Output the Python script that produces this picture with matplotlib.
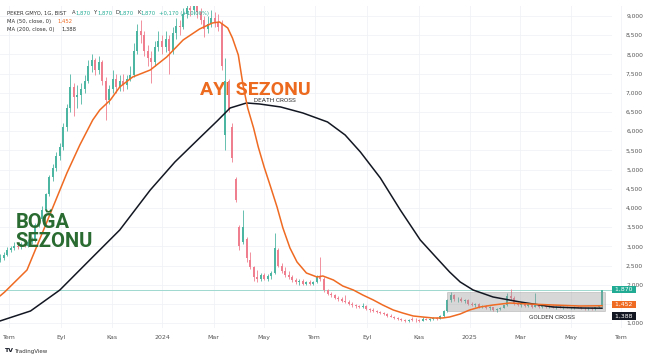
import numpy as np
import pandas as pd
import matplotlib
matplotlib.use("Agg")  # headless
import matplotlib.pyplot as plt
import matplotlib.transforms as mtransforms
from matplotlib.patches import Rectangle

# ---------- candles (one every 3rd session) ----------
opens = [2650, 2700, 2780, 2900, 2950, 3020, 2980, 3050, 3020, 3100,
         3150, 3560, 3700, 3950, 4350, 4800, 5050, 5350, 5600, 6100,
         6600, 7150, 6900, 6950, 7100, 7300, 7700, 7850, 7600, 7800,
         7300, 6800, 7100, 7350, 7150, 7300, 7200, 7350, 7450, 8100,
         8600, 8500, 8100, 7900, 7800, 8200, 8350, 8200, 8400, 8100,
         8550, 8750, 8700, 9050, 9200, 9150, 9250, 9100, 8900, 8650,
         8800, 8950, 8850, 8800, 5900, 7300, 6100, 4750, 3500, 3100,
         3200, 2650, 2450, 2200, 2150, 2250, 2160, 2220, 2300, 2900,
         2500, 2350, 2250, 2200, 2120, 2060, 2100, 2030, 2060, 2010,
         2080, 2200, 2150, 1850, 1760, 1720, 1650, 1620, 1570, 1560,
         1500, 1460, 1440, 1410, 1450, 1360, 1330, 1310, 1280, 1260,
         1230, 1190, 1170, 1120, 1100, 1070, 1060, 1090, 1080, 1070,
         1060, 1110, 1090, 1100, 1120, 1110, 1180, 1320, 1600, 1720,
         1620, 1640, 1580, 1600, 1510, 1480, 1500, 1430, 1450, 1390,
         1410, 1350, 1370, 1400, 1460, 1700, 1650, 1520, 1480, 1500,
         1450, 1490, 1430, 1470, 1430, 1450, 1420, 1440, 1410, 1430,
         1400, 1420, 1390, 1410, 1420, 1400, 1390, 1380, 1400, 1370,
         1410, 1440]
highs = [2800, 2850, 2980, 3020, 3100, 3080, 3120, 3100, 3180, 3250,
         3600, 3780, 4050, 4400, 4850, 5150, 5450, 5700, 6200, 6700,
         7500, 7250, 7200, 7250, 7450, 7850, 8000, 7900, 7950, 7850,
         7400, 7200, 7600, 7500, 7450, 7500, 7450, 7700, 8300, 8800,
         8900, 8600, 8250, 8100, 8350, 8600, 8500, 8600, 8500, 8700,
         8950, 8900, 9200, 9400, 9350, 9400, 9350, 9200, 9000, 9000,
         9150, 9100, 9050, 8900, 7900, 7350, 6200, 4800, 3550, 3950,
         3250, 2850, 2500, 2380, 2300, 2300, 2280, 2350, 3350, 2950,
         2570, 2450, 2350, 2250, 2180, 2150, 2150, 2100, 2120, 2100,
         2250, 2720, 2200, 1900, 1820, 1760, 1700, 1680, 1720, 1590,
         1540, 1500, 1480, 1520, 1470, 1400, 1380, 1340, 1320, 1300,
         1270, 1230, 1190, 1160, 1130, 1100, 1110, 1150, 1120, 1100,
         1160, 1140, 1130, 1150, 1160, 1200, 1350, 1620, 1800, 1750,
         1680, 1670, 1640, 1620, 1560, 1530, 1520, 1480, 1470, 1440,
         1430, 1400, 1420, 1480, 1780, 1900, 1700, 1560, 1540, 1530,
         1520, 1510, 1780, 1500, 1470, 1480, 1460, 1470, 1450, 1460,
         1440, 1450, 1430, 1440, 1450, 1430, 1420, 1410, 1430, 1420,
         1460, 1870]
lows = [2600, 2650, 2740, 2850, 2900, 2920, 2940, 2980, 2990, 3060,
        3120, 3500, 3650, 3900, 4300, 4700, 4950, 5250, 5500, 6000,
        6500, 6400, 6600, 6700, 7000, 7250, 7550, 7450, 7500, 7200,
        6300, 6700, 7000, 7000, 7050, 7050, 7100, 7300, 7400, 8000,
        8300, 7950, 7700, 7250, 7700, 8100, 8000, 8050, 7500, 8000,
        8400, 8500, 8650, 8950, 9000, 9050, 8950, 8800, 8450, 8550,
        8700, 8700, 8600, 7600, 5500, 6500, 5200, 4150, 2900, 3050,
        2600, 2400, 2100, 2080, 2100, 2120, 2100, 2150, 2280, 2450,
        2300, 2200, 2150, 2080, 2020, 2000, 1990, 1980, 1990, 1980,
        2050, 2100, 1820, 1720, 1690, 1620, 1580, 1540, 1530, 1470,
        1430, 1400, 1380, 1390, 1340, 1300, 1290, 1250, 1230, 1200,
        1170, 1150, 1100, 1080, 1050, 1030, 1040, 1060, 1040, 1030,
        1050, 1070, 1060, 1080, 1090, 1100, 1170, 1300, 1560, 1580,
        1560, 1540, 1520, 1480, 1450, 1420, 1400, 1380, 1360, 1340,
        1320, 1300, 1330, 1380, 1450, 1600, 1480, 1440, 1430, 1420,
        1420, 1400, 1420, 1400, 1390, 1400, 1380, 1400, 1370, 1390,
        1370, 1380, 1360, 1370, 1380, 1360, 1350, 1340, 1350, 1350,
        1380, 1430]
closes = [2700, 2780, 2900, 2950, 3020, 2980, 3050, 3020, 3100, 3150,
          3560, 3700, 3950, 4350, 4800, 5050, 5350, 5600, 6100, 6600,
          7150, 6900, 6950, 7100, 7300, 7700, 7850, 7600, 7800, 7300,
          6800, 7100, 7350, 7150, 7300, 7200, 7350, 7450, 8100, 8600,
          8500, 8100, 7900, 7800, 8200, 8350, 8200, 8400, 8100, 8550,
          8750, 8700, 9050, 9200, 9150, 9250, 9100, 8900, 8650, 8800,
          8950, 8850, 8700, 7700, 7300, 6550, 5300, 4200, 3000, 3500,
          2700, 2450, 2200, 2150, 2250, 2160, 2220, 2300, 2950, 2500,
          2350, 2250, 2200, 2120, 2060, 2100, 2030, 2060, 2010, 2080,
          2200, 2150, 1850, 1760, 1720, 1650, 1620, 1570, 1560, 1500,
          1460, 1440, 1410, 1450, 1360, 1330, 1310, 1280, 1260, 1230,
          1190, 1170, 1120, 1100, 1070, 1060, 1090, 1080, 1070, 1060,
          1110, 1090, 1100, 1120, 1110, 1180, 1320, 1600, 1720, 1620,
          1640, 1580, 1600, 1510, 1480, 1500, 1430, 1450, 1390, 1410,
          1350, 1370, 1400, 1460, 1700, 1650, 1520, 1480, 1500, 1450,
          1490, 1430, 1470, 1430, 1450, 1420, 1440, 1410, 1430, 1400,
          1420, 1390, 1410, 1420, 1400, 1390, 1380, 1400, 1370, 1410,
          1440, 1870]

# ---------- moving averages (session number, value) ----------
ma50_day = [0, 4, 23, 40, 57, 68, 79, 85, 94, 102, 113, 128, 142, 156, 170,
            181, 187, 194, 198, 203, 207, 211, 216, 220, 225, 230, 236, 241,
            247, 253, 261, 270, 275, 284, 292, 301, 309, 318, 326, 335, 343,
            352, 360, 369, 377, 383, 392, 400, 409, 420, 434, 451, 471, 494, 513]
ma50 = [1706, 1810, 2383, 3640, 4910, 5640, 6291, 6551, 6812, 7150, 7411,
        7593, 7932, 8375, 8661, 8818, 8844, 8687, 8427, 7984, 7203, 6603,
        6082, 5588, 5066, 4598, 4024, 3477, 2956, 2592, 2305, 2201, 2227,
        2123, 1966, 1862, 1732, 1602, 1471, 1341, 1263, 1185, 1159, 1133,
        1133, 1159, 1237, 1341, 1419, 1471, 1523, 1497, 1471, 1445, 1452]
ma200_day = [0, 26, 51, 79, 102, 128, 149, 170, 185, 196, 210, 221, 239, 258,
             279, 294, 307, 324, 341, 358, 372, 383, 392, 403, 420, 443, 471,
             494, 513]
ma200 = [1055, 1315, 1862, 2722, 3425, 4467, 5197, 5822, 6265, 6603, 6734,
         6708, 6630, 6473, 6239, 5900, 5457, 4780, 3946, 3165, 2696, 2331,
         2071, 1862, 1680, 1550, 1419, 1393, 1388]

# consolidation box (sessions / prices)
box_days = [381, 515]
box_prices = [1315, 1810]

price_ticks = list(range(1000, 9001, 500))
hidden_ticks = {1500}  # covered by the MA tags on the scale
tr_months = {3: "Mar", 5: "May", 7: "Tem", 9: "Eyl", 11: "Kas"}

UP, DOWN = "#4db6a3", "#ef7f8e"
ORANGE, BLACK, TEAL = "#ef6a22", "#131722", "#22ab94"
NARROW = ["Roboto", "DejaVu Sans"]

# ---------- session calendar and month ticks ----------
sessions = pd.bdate_range("2023-06-21", periods=560)
tick_pos, tick_lab = [], []
for i in range(1, len(sessions)):
    d, prev = sessions[i], sessions[i - 1]
    if d.month != prev.month and d.month % 2 == 1:
        tick_pos.append(i)
        tick_lab.append(str(d.year) if d.month == 1 else tr_months[d.month])

# ---------- figure ----------
W, H = 654, 359
fig = plt.figure(figsize=(W / 100, H / 100), dpi=100)
ax = fig.add_axes([0, 31 / H, 650 / W, 322 / H])
ax.set_xlim(0, 553.7)
ax.set_ylim(872, 9260)
pane = 611 / 650  # right edge of the price pane in axes fraction

for s in ax.spines.values():
    s.set_visible(False)

for p in price_ticks:
    ax.axhline(p, xmax=pane, color="#f0f2f6", lw=0.6, zorder=0)
for t in tick_pos:
    ax.axvline(t, color="#f0f2f6", lw=0.6, zorder=0)

# candles
x = np.arange(len(closes)) * 3
o, h, l, c = map(np.array, (opens, highs, lows, closes))
col = np.where(c >= o, UP, DOWN)
ax.vlines(x, l, h, colors=col, lw=0.6, zorder=3)
ax.bar(x, np.maximum(np.abs(c - o), 20), bottom=np.minimum(o, c), width=1.7,
       color=col, lw=0, zorder=3)

# last price line
ax.axhline(closes[-1], xmax=pane, color="#9fd8cf", lw=0.7, zorder=1)

# box
ax.add_patch(Rectangle((box_days[0], box_prices[0]), box_days[1] - box_days[0],
                       box_prices[1] - box_prices[0], facecolor="#969696",
                       alpha=0.38, edgecolor="#8a8a8a", lw=0.6, zorder=3.5))

# moving averages
ax.plot(ma200_day, ma200, color=BLACK, lw=1.1, zorder=4, solid_capstyle="round")
ax.plot(ma50_day, ma50, color=ORANGE, lw=1.1, zorder=4, solid_capstyle="round")

# annotations
ax.text(13, 3478, "BOĞA", family=NARROW, fontsize=14.5, fontweight="bold",
        color="#2a6b31", va="baseline", ha="left", zorder=5)
ax.text(13, 2983, "SEZONU", family=NARROW, fontsize=14.5, fontweight="bold",
        color="#2a6b31", va="baseline", ha="left", zorder=5)
ax.text(170, 6942, "AYI SEZONU", family=NARROW, fontsize=14, fontweight="bold",
        color="#ec6a1f", va="baseline", ha="left", zorder=2.5)
ax.text(234, 6799, "DEATH CROSS", family=NARROW, fontsize=4.6, color="#333333",
        ha="center", va="center", zorder=5)
ax.text(470, 1146, "GOLDEN CROSS", family=NARROW, fontsize=4.6, color="#333333",
        ha="center", va="center", zorder=5)

# axes ticks
ax.set_xticks(tick_pos, tick_lab)
ax.tick_params(axis="x", length=0, pad=5, labelsize=4.5, labelcolor="#555555")
ax.yaxis.tick_right()
ax.set_yticks(price_ticks,
              ["" if p in hidden_ticks else f"{p:,}" for p in price_ticks])
ax.tick_params(axis="y", length=0, direction="in", pad=-5, labelsize=4.3,
               labelcolor="#555555")
for lab in ax.get_yticklabels():
    lab.set_horizontalalignment("right")

# price tags on the scale
trans = mtransforms.blended_transform_factory(ax.transAxes, ax.transData)
for val, fc, dy in [(closes[-1], TEAL, 0), (ma50[-1], ORANGE, 1), (ma200[-1], BLACK, -5.5)]:
    ax.annotate(f" {val:,} ", xy=(pane + 0.003, val), xycoords=trans,
                xytext=(0, dy), textcoords="offset points", ha="left", va="center",
                fontsize=4.4, color="white", annotation_clip=False, zorder=6,
                bbox=dict(boxstyle="square,pad=0.2", fc=fc, ec="none"))


# ---------- header legend ----------
def htxt(px, py, s, color="#333333"):
    fig.text(px / W, 1 - py / H, s, color=color, fontsize=3.8, va="center", ha="left")


htxt(7, 13, "PEKER GMYO, 1G, BIST")
for px, key in [(72, "A"), (94, "Y"), (115, "D"), (137, "K")]:
    htxt(px, 13, key)
    htxt(px + 3.5, 13, f"{closes[-1]:,}", TEAL)
htxt(159, 13, "+0,170 (+10,00%)", TEAL)
htxt(7, 21, "MA (50, close, 0)")
htxt(57, 21, f"{ma50[-1]:,}", ORANGE)
htxt(7, 29, "MA (200, close, 0)")
htxt(61, 29, f"{ma200[-1]:,}")

# footer
fig.text(4 / W, 1 - 351 / H, "TV", fontsize=4.5, fontweight="bold", color="#131722", va="center")
fig.text(14 / W, 1 - 351 / H, "TradingView", fontsize=4, color="#333333", va="center")

fig.savefig("out.png", dpi=100)
plt.close(fig)
